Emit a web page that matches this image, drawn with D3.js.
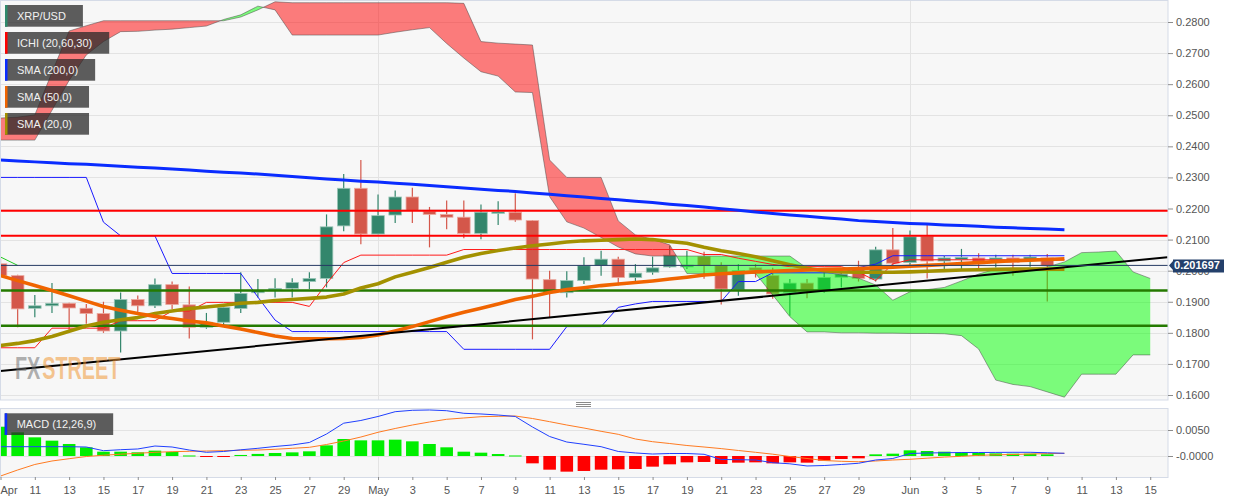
<!DOCTYPE html>
<html>
<head>
<meta charset="utf-8">
<script src="https://cdn.jsdelivr.net/npm/d3@7"></script>
<style>
  body { margin: 0; background: #fff; }
  svg { display: block; font-family: "Liberation Sans", Arial, sans-serif; }
</style>
</head>
<body>
<script>
// ---- data (daily, XRP/USD, first bar = Apr 9) ----
var firstDay = "2020-04-09";

var opens  = [.2022,.1984,.1879,.1887,.1895,.1879,.1862,.1806,.1907,.1887,.1955,.1890,.1818,.1834,.1878,.1929,.1939,.1943,.1965,.1975,
              .2144,.2265,.2118,.2179,.2237,.2191,.2181,.2172,.2120,.2185,.2188,.2161,.1971,.1929,.1968,.2017,.2037,.1978,.1995,.2012,
              .2012,.2045,.2016,.1938,.2009,.1984,.1930,.1960,.1935,.1979,.2010,.1973,.2067,.2026,.2111,.2031,.2036,.2041,.2035,.2041,
              .2035,.2041];
var highs  = [.2040,.1987,.1922,.1960,.1897,.1893,.1900,.1930,.1920,.1975,.1965,.1949,.1864,.1893,.1995,.1973,.1976,.1976,.1995,.2181,
              .2311,.2356,.2245,.2258,.2267,.2205,.2226,.2226,.2213,.2223,.2249,.2163,.2000,.1998,.2043,.2064,.2045,.2021,.2045,.2080,
              .2064,.2061,.2027,.2021,.2021,.2009,.1973,.1973,.2000,.2005,.2032,.2077,.2137,.2129,.2147,.2048,.2070,.2056,.2051,.2051,
              .2051,.2054];
var lows   = [.1980,.1818,.1850,.1864,.1801,.1829,.1800,.1737,.1862,.1880,.1877,.1782,.1813,.1823,.1864,.1914,.1914,.1914,.1941,.1946,
              .2127,.2085,.2117,.2153,.2153,.2075,.2133,.2104,.2101,.2147,.2157,.1779,.1850,.1914,.1957,.1984,.1952,.1962,.1987,.2009,
              .2005,.1974,.1891,.1919,.1978,.1910,.1855,.1911,.1929,.1946,.1965,.1965,.2010,.2010,.1975,.2005,.2005,.2005,.2010,.1984,
              .2013,.1901];
var closes = [.1984,.1877,.1887,.1895,.1880,.1862,.1806,.1907,.1887,.1955,.1891,.1818,.1834,.1882,.1927,.1936,.1943,.1962,.1975,.2141,
              .2265,.2118,.2177,.2237,.2194,.2181,.2172,.2120,.2188,.2189,.2163,.1973,.1929,.1968,.2016,.2037,.1978,.1992,.2009,.2050,
              .2018,.2016,.1941,.2000,.2002,.1925,.1960,.1938,.1978,.1989,.1975,.2067,.2024,.2109,.2031,.2041,.2043,.2022,.2041,.2027,
              .2044,.2017];

var sma200 = [.2356,.2353,.2350,.2347,.2344,.2342,.2339,.2336,.2333,.2330,.2327,.2324,.2320,.2317,.2314,.2311,.2307,.2303,.2299,.2295,
              .2292,.2288,.2285,.2281,.2278,.2274,.2270,.2266,.2262,.2258,.2255,.2250,.2246,.2241,.2237,.2232,.2228,.2223,.2219,.2214,
              .2210,.2205,.2199,.2194,.2189,.2184,.2179,.2175,.2170,.2166,.2161,.2158,.2155,.2152,.2150,.2147,.2145,.2143,.2140,.2138,
              .2136,.2134,.2132];
var sma50  = [.1984,.1968,.1952,.1936,.1919,.1902,.1885,.1873,.1862,.1853,.1846,.1838,.1832,.1822,.1812,.1801,.1790,.1782,.1781,.1781,
              .1782,.1785,.1793,.1806,.1820,.1836,.1852,.1866,.1879,.1893,.1907,.1918,.1930,.1939,.1945,.1952,.1957,.1962,.1967,.1973,
              .1979,.1986,.1990,.1993,.1996,.1998,.2000,.2002,.2004,.2005,.2007,.2009,.2011,.2014,.2017,.2020,.2023,.2026,.2029,.2032,
              .2034,.2036,.2038];
var sma20  = [.1759,.1766,.1775,.1788,.1805,.1822,.1834,.1842,.1849,.1862,.1870,.1878,.1883,.1889,.1895,.1898,.1904,.1907,.1911,.1915,
              .1925,.1944,.1958,.1980,.1995,.2010,.2027,.2043,.2055,.2065,.2073,.2080,.2086,.2092,.2096,.2098,.2100,.2102,.2100,.2094,
              .2088,.2075,.2064,.2055,.2045,.2032,.2019,.2008,.2000,.1996,.1995,.1995,.1995,.1996,.1998,.2000,.2002,.2003,.2004,.2005,
              .2005,.2005,.2005];

// ichimoku (20,60,30)
var tenkan = [.1752,.1752,.1752,.1815,.1815,.1815,.1815,.1839,.1839,.1839,.1870,.1870,.1898,.1898,.1898,.1898,.1898,.1898,.1885,.1958,
              .2026,.2050,.2050,.2050,.2050,.2050,.2050,.2068,.2068,.2068,.2068,.2068,.2068,.2068,.2068,.2068,.2068,.2068,.2068,.2068,
              .2068,.2052,.2052,.2040,.2030,.2020,.2013,.2013,.2013,.2013,.1995,.1968,.2022,.2035,.2035,.2035,.2035,.2035,.2035,.2035,
              .2035,.2035,.2035];
var kijun  = [.2300,.2300,.2300,.2300,.2300,.2300,.2156,.2112,.2112,.2112,.1991,.1991,.1991,.1991,.1991,.1915,.1841,.1804,.1804,.1804,
              .1804,.1804,.1804,.1804,.1804,.1804,.1804,.1747,.1747,.1747,.1747,.1747,.1747,.1820,.1820,.1820,.1882,.1893,.1901,.1901,
              .1901,.1901,.1901,.1965,.1965,.1993,.1993,.1993,.1993,.1993,.2010,.2021,.2048,.2048,.2048,.2048,.2048,.2048,.2048,.2048,
              .2048,.2048,.2048];
var spanA  = [.2420,.2420,.2420,.2516,.2612,.2694,.2737,.2769,.2770,.2774,.2777,.2782,.2787,.2808,.2823,.2851,.2839,.2758,.2758,.2758,
              .2758,.2758,.2758,.2767,.2775,.2782,.2731,.2684,.2640,.2626,.2575,.2573,.2238,.2157,.2137,.2107,.2076,.2054,.2047,.2047,
              .2047,.2047,.2047,.2047,.2047,.2047,.2047,.2008,.1996,.1986,.1976,.1954,.1905,.1932,.1939,.1946,.1967,.1989,.2005,.2007,
              .2008,.2012,.2028,.2058,.2060,.2063,.1996,.1975];
var spanB  = [.2491,.2494,.2501,.2638,.2771,.2788,.2804,.2804,.2804,.2804,.2804,.2804,.2804,.2804,.2816,.2839,.2865,.2862,.2862,.2862,
              .2862,.2862,.2862,.2862,.2862,.2862,.2862,.2860,.2737,.2732,.2729,.2726,.2356,.2300,.2300,.2300,.2160,.2115,.2101,.2083,
              .1991,.1991,.1991,.1991,.1991,.1922,.1852,.1803,.1803,.1800,.1800,.1799,.1799,.1798,.1798,.1797,.1791,.1748,.1648,.1634,
              .1627,.1610,.1593,.1667,.1667,.1667,.1729,.1729];
var chikou = [.2044,.2017];

// levels
var resistance = [.2193, .2112];
var support    = [.1936, .1823];
var trendDays  = [0, 68];
var trendVals  = [.1677, .2043];
var lastPrice  = 0.201697;

// MACD (12,26,9)
var macdHist = [.00563,.00455,.00359,.00295,.00231,.00167,.00083,.00083,.00071,.00103,.00077,.00010,-.00013,-.00012,.00020,.00040,.00058,.00070,.00090,.00205,
                .00327,.00301,.00301,.00314,.00282,.00231,.00167,.00083,.00064,.00038,.00010,-.00141,-.00263,-.00301,-.00288,-.00263,-.00256,-.00250,-.00205,-.00160,
                -.00122,-.00115,-.00154,-.00128,-.00122,-.00141,-.00122,-.00128,-.00090,-.00058,-.00045,.00032,.00045,.00109,.00096,.00083,.00071,.00064,.00051,.00045,
                .00045,.00032];
var macdLine = [.00179,.00179,.00179,.00179,.00179,.00173,.00102,.00121,.00135,.00192,.00173,.00115,.00071,.00087,.00119,.00148,.00183,.00212,.00260,.00423,
                .00631,.00683,.00760,.00852,.00879,.00885,.00871,.00821,.00808,.00788,.00760,.00558,.00375,.00269,.00225,.00179,.00087,.00058,.00038,.00048,
                .00048,.00033,-.00067,-.00071,-.00077,-.00129,-.00150,-.00192,-.00183,-.00163,-.00140,-.00077,-.00048,.00048,.00058,.00063,.00067,.00067,.00069,.00071,
                .00071,.00062,.00052];
var signalLine = [-.00385,-.00269,-.00163,-.00096,-.00052,-.00010,.00015,.00035,.00052,.00071,.00083,.00090,.00096,.00102,.00110,.00115,.00129,.00148,.00167,.00221,
                .00288,.00365,.00456,.00529,.00596,.00654,.00706,.00731,.00756,.00763,.00769,.00721,.00660,.00596,.00538,.00475,.00417,.00327,.00275,.00240,
                .00202,.00173,.00142,.00106,.00071,.00035,-.00010,-.00048,-.00087,-.00102,-.00110,-.00096,-.00077,-.00063,-.00042,-.00021,-.00006,.00013,.00023,.00029,
                .00038,.00046,.00052];

var priceTicks = [.16,.17,.18,.19,.20,.21,.22,.23,.24,.25,.26,.27,.28];
var macdTicks = [0.005, 0];
var monthStarts = ["2020-05-01", "2020-06-01"];
var legendNames = ["XRP/USD", "ICHI (20,60,30)", "SMA (200,0)", "SMA (50,0)", "SMA (20,0)"];
var legendColors = ["#2f8a6c", "#ff0000", "#0a2cff", "#f06400", "#a39100"];

// ---- layout ----
var width = 1244, height = 503;
var plotRight = 1168;
var mainTop = 1, mainBottom = 400;
var macdTop = 408, macdBottom = 477;
var barW = 12.6;

var t0 = Date.parse(firstDay);
function day(i) { return new Date(t0 + i * 864e5); }

var x = d3.scaleUtc()
          .domain([day(0), day(68)])
          .range([0.5, 0.5 + 17.16 * 68]);
var y = d3.scaleLinear().domain([0.16, 0.28]).range([395, 22]);
var ym = d3.scaleLinear().domain([0, 0.005]).range([456, 430]);

var svg = d3.select("body").append("svg")
            .attr("width", width)
            .attr("height", height);

var defs = svg.append("defs");
defs.append("clipPath").attr("id", "clipMain")
    .append("rect").attr("x", 0).attr("y", mainTop)
    .attr("width", plotRight).attr("height", mainBottom - mainTop);
defs.append("clipPath").attr("id", "clipMacd")
    .append("rect").attr("x", 0).attr("y", macdTop)
    .attr("width", plotRight).attr("height", macdBottom - macdTop);

// panel backgrounds
svg.append("rect").attr("x", 0).attr("y", mainTop)
   .attr("width", plotRight).attr("height", mainBottom - mainTop)
   .attr("fill", "#f7f7f7");
svg.append("rect").attr("x", 0).attr("y", macdTop)
   .attr("width", plotRight).attr("height", macdBottom - macdTop)
   .attr("fill", "#f7f7f7");

// gridlines
var grid = svg.append("g").attr("stroke", "#e3e3e3").attr("stroke-width", 1);
grid.selectAll("line.h").data(priceTicks).enter().append("line")
    .attr("x1", 0).attr("x2", plotRight)
    .attr("y1", function(d) { return Math.round(y(d)) + 0.5; })
    .attr("y2", function(d) { return Math.round(y(d)) + 0.5; });
grid.selectAll("line.m").data(macdTicks).enter().append("line")
    .attr("x1", 0).attr("x2", plotRight)
    .attr("y1", function(d) { return Math.round(ym(d)) + 0.5; })
    .attr("y2", function(d) { return Math.round(ym(d)) + 0.5; });
monthStarts.forEach(function(s) {
  var xx = Math.round(x(new Date(Date.parse(s)))) + 0.5;
  grid.append("line").attr("x1", xx).attr("x2", xx).attr("y1", mainTop).attr("y2", mainBottom);
  grid.append("line").attr("x1", xx).attr("x2", xx).attr("y1", macdTop).attr("y2", macdBottom);
});

var main = svg.append("g").attr("clip-path", "url(#clipMain)");

// candles
var candles = main.append("g").selectAll("g")
                  .data(closes.map(function(c, i) { return {i: i, o: opens[i], h: highs[i], l: lows[i], c: c}; }))
                  .enter().append("g");
candles.append("line")
       .attr("x1", function(d) { return x(day(d.i)); })
       .attr("x2", function(d) { return x(day(d.i)); })
       .attr("y1", function(d) { return y(d.h); })
       .attr("y2", function(d) { return y(d.l); })
       .attr("stroke", function(d) { return d.c >= d.o ? "#33866c" : "#d4574a"; })
       .attr("stroke-width", 1.2);
candles.append("rect")
       .attr("x", function(d) { return x(day(d.i)) - barW / 2; })
       .attr("y", function(d) { return y(Math.max(d.o, d.c)); })
       .attr("width", barW)
       .attr("height", function(d) { return Math.max(1.5, Math.abs(y(d.o) - y(d.c))); })
       .attr("fill", function(d) { return d.c >= d.o ? "#33866c" : "#d4574a"; })
       .attr("stroke", function(d) { return d.c >= d.o ? "#9cc7b8" : "#eba89f"; })
       .attr("stroke-width", 0.8);

// kumo: add crossing points so red and green meet cleanly
var kumo = [];
spanA.forEach(function(a, i) {
  if (i > 0) {
    var d0 = spanA[i - 1] - spanB[i - 1], d1 = a - spanB[i];
    if (d0 * d1 < 0) {
      var f = d0 / (d0 - d1);
      var v = spanA[i - 1] + f * (a - spanA[i - 1]);
      kumo.push({t: i - 1 + f, a: v, b: v});
    }
  }
  kumo.push({t: i, a: a, b: spanB[i]});
});
var kx = function(d) { return x(day(d.t)); };
main.append("path").datum(kumo)
    .attr("d", d3.area().x(kx)
                 .y0(function(d) { return y(d.a); })
                 .y1(function(d) { return y(Math.max(d.a, d.b)); }))
    .attr("fill", "rgba(255,0,0,0.5)");
main.append("path").datum(kumo)
    .attr("d", d3.area().x(kx)
                 .y0(function(d) { return y(d.b); })
                 .y1(function(d) { return y(Math.max(d.a, d.b)); }))
    .attr("fill", "rgba(0,255,0,0.5)");
[spanA, spanB].forEach(function(s) {
  main.append("path").datum(s)
      .attr("d", d3.line().x(function(d, i) { return x(day(i)); }).y(function(d) { return y(d); }))
      .attr("fill", "none").attr("stroke", "rgba(70,70,70,0.55)").attr("stroke-width", 0.9);
});

function drawLine(g, values, scale, color, w) {
  g.append("path").datum(values)
   .attr("d", d3.line().x(function(d, i) { return x(day(i)); }).y(function(d) { return scale(d); }))
   .attr("fill", "none")
   .attr("stroke", color)
   .attr("stroke-width", w)
   .attr("stroke-linejoin", "round");
}

drawLine(main, chikou, y, "#22cc22", 1);
drawLine(main, tenkan, y, "#ff1a1a", 1);
drawLine(main, kijun, y, "#1a1aff", 1);

// horizontal levels
resistance.forEach(function(v) {
  main.append("line").attr("x1", 0).attr("x2", plotRight).attr("y1", y(v)).attr("y2", y(v))
      .attr("stroke", "#ff0000").attr("stroke-width", 2);
});
support.forEach(function(v) {
  main.append("line").attr("x1", 0).attr("x2", plotRight).attr("y1", y(v)).attr("y2", y(v))
      .attr("stroke", "#247a00").attr("stroke-width", 2.4);
});

drawLine(main, sma200, y, "#0a2cff", 3);
drawLine(main, sma20, y, "#a39100", 3.6);
drawLine(main, sma50, y, "#f06400", 3.6);

// trend line
main.append("line")
    .attr("x1", x(day(trendDays[0]))).attr("y1", y(trendVals[0]))
    .attr("x2", x(day(trendDays[1]))).attr("y2", y(trendVals[1]))
    .attr("stroke", "#000").attr("stroke-width", 2);

// last price line
main.append("line").attr("x1", 0).attr("x2", plotRight)
    .attr("y1", y(lastPrice)).attr("y2", y(lastPrice))
    .attr("stroke", "#263a63").attr("stroke-width", 1);

// watermark: condensed by a horizontal scale, two parts side by side
var wm = main.append("g").attr("transform", "translate(15,379) scale(0.62,1)")
             .attr("font-size", 32).attr("font-weight", "bold");
var fx = wm.append("text").attr("x", 0).attr("y", 0)
           .attr("fill", "rgba(110,110,110,0.55)").text("FX");
wm.append("text").attr("x", fx.node().getComputedTextLength() + 3).attr("y", 0)
  .attr("fill", "rgba(240,150,50,0.55)").text("STREET");

// ---- MACD panel ----
var macdG = svg.append("g").attr("clip-path", "url(#clipMacd)");
macdG.selectAll("rect").data(macdHist).enter().append("rect")
     .attr("x", function(d, i) { return x(day(i)) - barW / 2; })
     .attr("y", function(d) { return ym(Math.max(d, 0)); })
     .attr("width", barW)
     .attr("height", function(d) { return Math.max(1, Math.abs(ym(d) - ym(0))); })
     .attr("fill", function(d) { return d >= 0 ? "#00ee00" : "#ff0000"; });
drawLine(macdG, signalLine, ym, "#ff7b22", 1);
drawLine(macdG, macdLine, ym, "#2040ff", 1);

// panel borders
svg.append("rect").attr("x", 0.5).attr("y", mainTop - 0.5)
   .attr("width", plotRight - 0.5).attr("height", mainBottom - mainTop + 0.5)
   .attr("fill", "none").attr("stroke", "#d5dbe7");
svg.append("rect").attr("x", 0.5).attr("y", macdTop + 0.5)
   .attr("width", plotRight - 0.5).attr("height", macdBottom - macdTop)
   .attr("fill", "none").attr("stroke", "#d5dbe7");

// splitter handle
[402.5, 404.5, 406.5].forEach(function(yy) {
  svg.append("line").attr("x1", 576).attr("x2", 591).attr("y1", yy).attr("y2", yy)
     .attr("stroke", "#8a8a8a").attr("stroke-width", 1);
});

// ---- axes ----
function styleAxis(g) {
  g.select(".domain").remove();
  g.selectAll(".tick line").attr("stroke", "#8c8c8c");
  g.selectAll(".tick text").attr("fill", "#555").attr("font-size", 11)
   .attr("font-family", "\"Liberation Sans\", Arial, sans-serif");
}

svg.append("g").attr("transform", "translate(" + plotRight + ",0)")
   .call(d3.axisRight(y).tickValues(priceTicks).tickFormat(d3.format(".4f")).tickSize(5).tickPadding(3))
   .call(styleAxis);

svg.append("g").attr("transform", "translate(" + plotRight + ",0)")
   .call(d3.axisRight(ym).tickValues(macdTicks)
           .tickFormat(function(d) { return d === 0 ? "-0.0000" : d3.format(".4f")(d); })
           .tickSize(5).tickPadding(3))
   .call(styleAxis);

var dateTicks = d3.utcDay.range(day(0), day(68)).filter(function(d) {
  return d.getUTCDate() % 2 === 1 && d.getUTCDate() !== 31;
});
var fmtMonth = d3.utcFormat("%b");
var xAxis = svg.append("g").attr("transform", "translate(0," + macdBottom + ")")
   .call(d3.axisBottom(x).tickValues(dateTicks)
           .tickFormat(function(d, i) {
             return (i === 0 || d.getUTCDate() === 1) ? fmtMonth(d) : d.getUTCDate();
           })
           .tickSize(3).tickPadding(6))
   .call(styleAxis);
xAxis.selectAll(".tick text").filter(function(d, i) { return i === 0; })
     .attr("text-anchor", "start").attr("x", -0.5);

// last price tag (drawn over the 0.2000 label, as in the source chart)
var py = y(lastPrice);
svg.append("path")
   .attr("d", "M" + (plotRight + 1) + "," + py + "L" + (plotRight + 5) + "," + (py - 4.5) + "V" + (py - 6) +
              "H1224V" + (py + 7) + "H" + (plotRight + 5) + "V" + (py + 4.5) + "Z")
   .attr("fill", "#24406b");
svg.append("text").attr("x", 1197).attr("y", py + 4).attr("text-anchor", "middle")
   .attr("font-size", 11).attr("font-weight", "bold").attr("fill", "#fff")
   .text(d3.format(".6f")(lastPrice));

// ---- legends ----
function legendBox(label, color, bx, by) {
  var g = svg.append("g");
  var r = g.append("rect").attr("x", bx).attr("y", by).attr("height", 21.7)
           .attr("fill", "rgba(40,40,40,0.75)");
  g.append("rect").attr("x", bx).attr("y", by).attr("width", 2.5).attr("height", 21.7).attr("fill", color);
  var t = g.append("text").attr("x", bx + 12).attr("y", by + 15).attr("font-size", 11)
           .attr("fill", "#f2f2f2").text(label);
  r.attr("width", t.node().getComputedTextLength() + 29);
}
legendNames.forEach(function(n, i) { legendBox(n, legendColors[i], 5, 5 + i * 27); });
legendBox("MACD (12,26,9)", "#0a2cff", 4.7, 413.3);
</script>
</body>
</html>
